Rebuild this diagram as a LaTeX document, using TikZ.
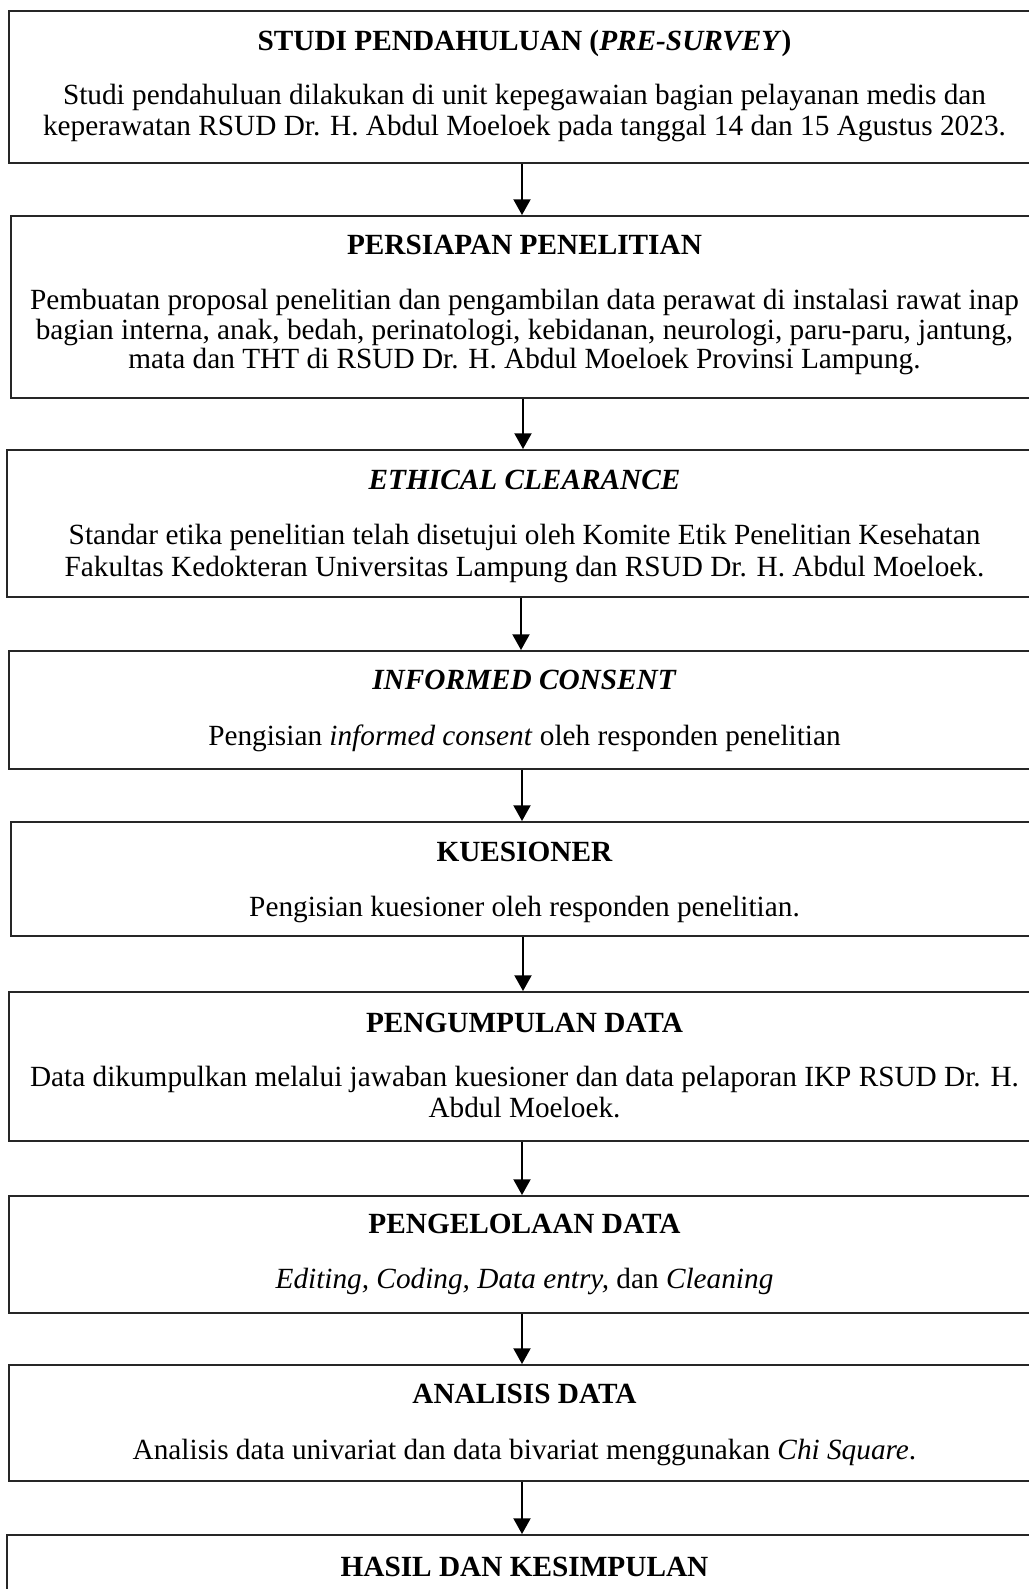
\documentclass[tikz,border=0pt]{standalone}
\usepackage{fontspec}
\setmainfont{Liberation Serif}
\usetikzlibrary{fit,arrows.meta}
\begin{document}
\begin{tikzpicture}[x=0.41322pt,y=-0.41322pt,
  box/.style={draw=black!85,line width=0.8pt,inner sep=0pt,fill=none},
  txt/.style={anchor=base,inner sep=0pt,font=\fontsize{12.1}{14}\selectfont},
  arr/.style={line width=0.9pt,-{Triangle[width=7pt,length=6.5pt]}}]
\useasboundingbox (0,0) rectangle (1028,1589);
% boxes
\node[box,fit={(9,11) (1035,163)}] (b1) {};
\node[box,fit={(11,216) (1035,398)}] (b2) {};
\node[box,fit={(7,450) (1035,597)}] (b3) {};
\node[box,fit={(9,651) (1035,769)}] (b4) {};
\node[box,fit={(11,822) (1035,936)}] (b5) {};
\node[box,fit={(9,992) (1035,1141)}] (b6) {};
\node[box,fit={(9,1196) (1035,1313)}] (b7) {};
\node[box,fit={(9,1365) (1035,1481)}] (b8) {};
\node[box,fit={(7,1535) (1035,1650)}] (b9) {};
% texts
\node[txt] (t1) at (524.5,50) {\textbf{STUDI PENDAHULUAN (\textit{PRE-SURVEY})}};
\node[txt] (t1a) at (524.5,104.5) {Studi pendahuluan dilakukan di unit kepegawaian bagian pelayanan medis dan};
\node[txt] (t1b) at (524.5,135) {keperawatan RSUD Dr. H. Abdul Moeloek pada tanggal 14 dan 15 Agustus 2023.};
\node[txt] (t2) at (524.5,254) {\textbf{PERSIAPAN PENELITIAN}};
\node[txt] (t2a) at (524.5,309.5) {Pembuatan proposal penelitian dan pengambilan data perawat di instalasi rawat inap};
\node[txt] (t2b) at (524.5,339) {bagian interna, anak, bedah, perinatologi, kebidanan, neurologi, paru-paru, jantung,};
\node[txt] (t2c) at (524.5,368.5) {mata dan THT di RSUD Dr. H. Abdul Moeloek Provinsi Lampung.};
\node[txt] (t3) at (524.5,489) {\textbf{\textit{ETHICAL CLEARANCE}}};
\node[txt] (t3a) at (524.5,544) {Standar etika penelitian telah disetujui oleh Komite Etik Penelitian Kesehatan};
\node[txt] (t3b) at (524.5,576.5) {Fakultas Kedokteran Universitas Lampung dan RSUD Dr. H. Abdul Moeloek.};
\node[txt] (t4) at (524.5,689) {\textbf{\textit{INFORMED CONSENT}}};
\node[txt] (t4a) at (524.5,745) {Pengisian \textit{informed consent} oleh responden penelitian};
\node[txt] (t5) at (524.5,861) {\textbf{KUESIONER}};
\node[txt] (t5a) at (524.5,916) {Pengisian kuesioner oleh responden penelitian.};
\node[txt] (t6) at (524.5,1032) {\textbf{PENGUMPULAN DATA}};
\node[txt] (t6a) at (524.5,1086.5) {Data dikumpulkan melalui jawaban kuesioner dan data pelaporan IKP RSUD Dr. H.};
\node[txt] (t6b) at (524.5,1117.5) {Abdul Moeloek.};
\node[txt] (t7) at (524.5,1233) {\textbf{PENGELOLAAN DATA}};
\node[txt] (t7a) at (524.5,1288) {\textit{Editing, Coding, Data entry,} dan \textit{Cleaning}};
\node[txt] (t8) at (524.5,1403) {\textbf{ANALISIS DATA}};
\node[txt] (t8a) at (524.5,1459) {Analisis data univariat dan data bivariat menggunakan \textit{Chi Square}.};
\node[txt] (t9) at (524.5,1576) {\textbf{HASIL DAN KESIMPULAN}};
% arrows
\draw[arr] (b1.south) -- (b1.south |- b2.north);
\draw[arr] (b2.south) -- (b2.south |- b3.north);
\draw[arr] (b3.south) -- (b3.south |- b4.north);
\draw[arr] (b4.south) -- (b4.south |- b5.north);
\draw[arr] (b5.south) -- (b5.south |- b6.north);
\draw[arr] (b6.south) -- (b6.south |- b7.north);
\draw[arr] (b7.south) -- (b7.south |- b8.north);
\draw[arr] (b8.south) -- (b8.south |- b9.north);
\end{tikzpicture}
\end{document}
